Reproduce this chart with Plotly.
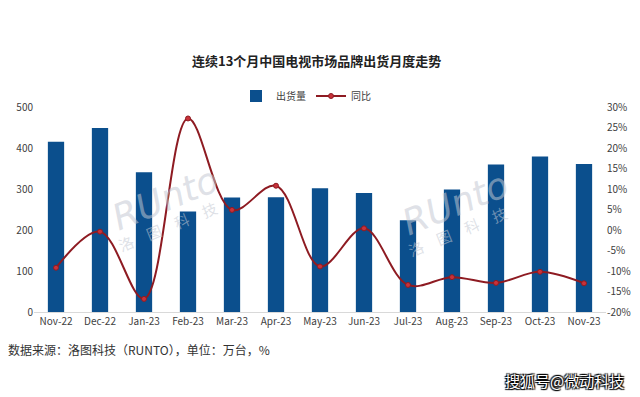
import plotly.graph_objects as go

months = ["Nov-22", "Dec-22", "Jan-23", "Feb-23", "Mar-23", "Apr-23", "May-23",
          "Jun-23", "Jul-23", "Aug-23", "Sep-23", "Oct-23", "Nov-23"]
shipments = [415, 449, 341, 245, 279, 280, 302, 290, 224, 299, 360, 379, 361]
yoy = [-9.2, -0.4, -16.8, 27.2, 4.9, 10.8, -8.9, 0.4, -13.4, -11.5, -12.9, -10.2, -13.0]
left_ticks = [0, 100, 200, 300, 400, 500]
right_ticks = [-20, -15, -10, -5, 0, 5, 10, 15, 20, 25, 30]

FONT = "Noto Sans CJK SC"
W, H = 640, 397
L, R, T, B = 34, 34, 107, 85
PW, PH = W - L - R, H - T - B


def px(x):
    return (x - L) / PW


def py(y):
    return (H - B - y) / PH


fig = go.Figure()
fig.add_trace(go.Bar(
    x=months, y=shipments, name="出货量",
    marker=dict(color="#0B4F8D", line=dict(width=0)),
    width=0.37,
))
fig.add_trace(go.Scatter(
    x=months, y=yoy, name="同比", yaxis="y2", mode="lines+markers",
    line=dict(color="#8E1B22", width=2, shape="spline", smoothing=1),
    marker=dict(color="#C8323A", size=5, line=dict(color="#8E1B22", width=1)),
))

annotations = [
    dict(text="<b>连续13个月中国电视市场品牌出货月度走势</b>", xref="paper", yref="paper",
         x=px(316), y=py(60), showarrow=False,
         font=dict(family=FONT, size=13, color="#222222"), xanchor="center", yanchor="middle"),
    dict(text="数据来源：洛图科技（RUNTO），单位：万台，%", xref="paper", yref="paper",
         x=px(6), y=py(349), showarrow=False,
         font=dict(family=FONT, size=12, color="#333333"), xanchor="left", yanchor="middle"),
    dict(text="搜狐号@微动科技", xref="paper", yref="paper",
         x=px(626), y=py(380), showarrow=False,
         font=dict(family=FONT, size=15, color="#ffffff",
                   shadow="1px 1px 1px #000, -1px -1px 1px #000, 1px -1px 1px #000, -1px 1px 1px #000"),
         xanchor="right", yanchor="middle"),
]
for cx, cy in [(165, 198), (455, 203)]:
    annotations.append(dict(text="<i>RUnto</i>", xref="paper", yref="paper",
                            x=px(cx), y=py(cy), showarrow=False, textangle=-22,
                            font=dict(family="DejaVu Sans", size=36, color="rgba(195,200,210,0.55)"),
                            xanchor="center", yanchor="middle"))
    annotations.append(dict(text="洛　图　科　技", xref="paper", yref="paper",
                            x=px(cx + 2), y=py(cy + 28), showarrow=False, textangle=-22,
                            font=dict(family=FONT, size=15, color="rgba(195,200,210,0.55)"),
                            xanchor="center", yanchor="middle"))

fig.update_layout(
    width=W, height=H,
    margin=dict(l=L, r=R, t=T, b=B, autoexpand=False),
    paper_bgcolor="white", plot_bgcolor="white",
    font=dict(family=FONT, size=10, color="#404040"),
    showlegend=True,
    legend=dict(orientation="h", x=px(306), y=py(96), xanchor="center", yanchor="middle",
                font=dict(family=FONT, size=10, color="#404040"), itemwidth=30,
                bgcolor="rgba(0,0,0,0)"),
    bargap=0.6,
    xaxis=dict(type="category", range=[-0.5, len(months) - 0.5], showgrid=False, showline=True,
               linecolor="#D9D9D9", linewidth=1,
               ticks="", automargin=False, tickfont=dict(family=FONT, size=10, color="#404040")),
    yaxis=dict(range=[0, 500], tickvals=left_ticks, showgrid=False, zeroline=False, automargin=False,
               showline=False, ticks="", tickfont=dict(family=FONT, size=10, color="#404040")),
    yaxis2=dict(range=[-20, 30], tickvals=right_ticks, ticktext=[f"{v}%" for v in right_ticks],
                overlaying="y", side="right", showgrid=False, zeroline=False, showline=False,
                automargin=False, ticks="", tickfont=dict(family=FONT, size=10, color="#404040")),
    annotations=annotations,
)

fig.write_html("out.html", config={"displayModeBar": False},
               post_script="document.body.style.margin='0';document.body.style.overflow='hidden';")
